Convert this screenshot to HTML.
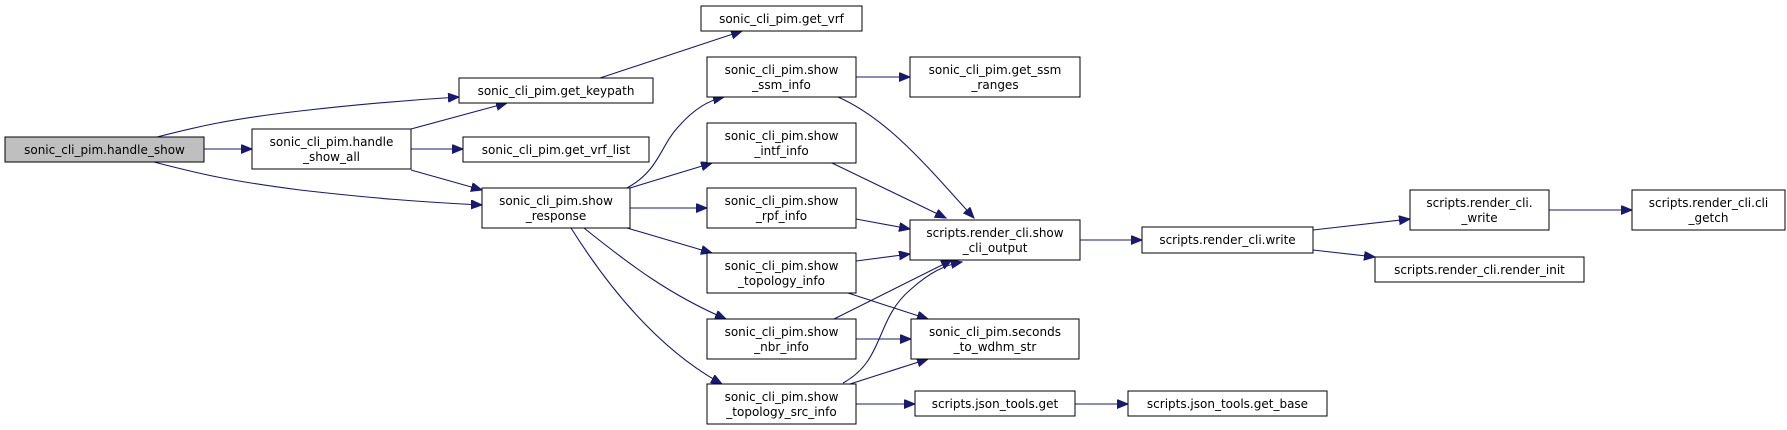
<!DOCTYPE html>
<html><head><meta charset="utf-8"><style>
html,body{margin:0;padding:0;background:#fff;}
svg{display:block;}
text{font-family:"DejaVu Sans","Liberation Sans",sans-serif;font-size:12px;fill:#000;text-anchor:middle;}
rect{fill:#fff;stroke:#000;stroke-width:1;}
path{fill:none;stroke:#191970;stroke-width:1.1;marker-end:url(#a);}
</style></head><body>
<svg width="1787" height="430" viewBox="0 0 1787 430" xmlns="http://www.w3.org/2000/svg">
<defs><marker id="a" markerUnits="userSpaceOnUse" markerWidth="12" markerHeight="10" refX="11" refY="4.5" orient="auto"><polygon points="0,0 11,4.5 0,9" fill="#191970" stroke="#191970"/></marker></defs>

<!-- edges -->
<path d="M157,137 C200,126 230,119 300,111 C360,104 410,100 459,97"/>
<path d="M204,149 L252,149"/>
<path d="M154,162 C200,174 230,181 300,190 C370,198 420,202 482,205"/>
<path d="M411,129 L507,103"/>
<path d="M411,149 L463,149"/>
<path d="M411,170 L482,190"/>
<path d="M600,78 L742,31"/>
<path d="M627,188 C660,170 660,145 680,125 C695,108 710,100 724,97"/>
<path d="M630,188 L712,163"/>
<path d="M630,208 L707,208"/>
<path d="M627,228 L712,253"/>
<path d="M584,228 C630,265 670,295 726,319"/>
<path d="M571,228 C610,290 660,350 722,384"/>
<path d="M856,77 L910,77"/>
<path d="M838,97 C890,120 930,170 974,218"/>
<path d="M832,163 L946,218"/>
<path d="M856,219 L910,229"/>
<path d="M856,261 L910,254"/>
<path d="M848,293 L928,319"/>
<path d="M834,319 L952,260"/>
<path d="M856,339 L911,339"/>
<path d="M843,383 C885,360 875,320 910,290 C930,272 945,265 962,262"/>
<path d="M850,384 L928,359"/>
<path d="M856,404 L915,404"/>
<path d="M1075,404 L1128,404"/>
<path d="M1080,240 L1142,240"/>
<path d="M1313,230 L1410,219"/>
<path d="M1313,250 L1375,257"/>
<path d="M1549,210 L1632,210"/>

<!-- nodes -->
<rect x="5" y="137" width="199" height="25" style="fill:#bfbfbf"/>
<text x="104.5" y="154">sonic_cli_pim.handle_show</text>

<rect x="252" y="129" width="159" height="40"/>
<text x="331.5" y="146">sonic_cli_pim.handle</text><text x="331.5" y="161">_show_all</text>

<rect x="459" y="78" width="194" height="25"/>
<text x="556" y="95">sonic_cli_pim.get_keypath</text>

<rect x="463" y="137" width="186" height="25"/>
<text x="556" y="154">sonic_cli_pim.get_vrf_list</text>

<rect x="482" y="188" width="148" height="40"/>
<text x="556" y="205">sonic_cli_pim.show</text><text x="556" y="220">_response</text>

<rect x="701" y="6" width="161" height="25"/>
<text x="781.5" y="23">sonic_cli_pim.get_vrf</text>

<rect x="707" y="57" width="149" height="40"/>
<text x="781.5" y="74">sonic_cli_pim.show</text><text x="781.5" y="89">_ssm_info</text>

<rect x="707" y="123" width="149" height="40"/>
<text x="781.5" y="140">sonic_cli_pim.show</text><text x="781.5" y="155">_intf_info</text>

<rect x="707" y="188" width="149" height="40"/>
<text x="781.5" y="205">sonic_cli_pim.show</text><text x="781.5" y="220">_rpf_info</text>

<rect x="707" y="253" width="149" height="40"/>
<text x="781.5" y="270">sonic_cli_pim.show</text><text x="781.5" y="285">_topology_info</text>

<rect x="707" y="319" width="149" height="40"/>
<text x="781.5" y="336">sonic_cli_pim.show</text><text x="781.5" y="351">_nbr_info</text>

<rect x="707" y="384" width="149" height="40"/>
<text x="781.5" y="401">sonic_cli_pim.show</text><text x="781.5" y="416">_topology_src_info</text>

<rect x="910" y="57" width="170" height="40"/>
<text x="995" y="74">sonic_cli_pim.get_ssm</text><text x="995" y="89">_ranges</text>

<rect x="910" y="220" width="170" height="40"/>
<text x="995" y="237">scripts.render_cli.show</text><text x="995" y="252">_cli_output</text>

<rect x="911" y="319" width="168" height="40"/>
<text x="995" y="336">sonic_cli_pim.seconds</text><text x="995" y="351">_to_wdhm_str</text>

<rect x="915" y="391" width="160" height="25"/>
<text x="995" y="408">scripts.json_tools.get</text>

<rect x="1128" y="391" width="199" height="25"/>
<text x="1227.5" y="408">scripts.json_tools.get_base</text>

<rect x="1142" y="227" width="171" height="26"/>
<text x="1227.5" y="244">scripts.render_cli.write</text>

<rect x="1410" y="190" width="139" height="40"/>
<text x="1479.5" y="207">scripts.render_cli.</text><text x="1479.5" y="222">_write</text>

<rect x="1375" y="257" width="209" height="25"/>
<text x="1479.5" y="274">scripts.render_cli.render_init</text>

<rect x="1632" y="190" width="153" height="40"/>
<text x="1708.5" y="207">scripts.render_cli.cli</text><text x="1708.5" y="222">_getch</text>
</svg>
</body></html>
